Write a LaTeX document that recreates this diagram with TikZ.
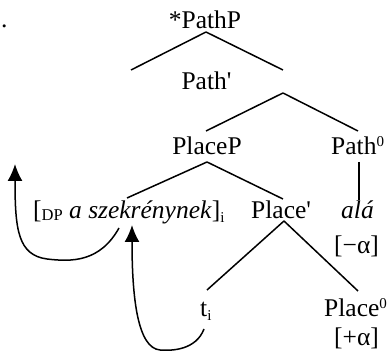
\documentclass[tikz,border=0pt]{standalone}
\usepackage{fontspec}
\setmainfont{Liberation Serif}
\usetikzlibrary{arrows.meta}
\newcommand{\dnsub}[1]{\raisebox{-4pt}{\fontsize{15}{15}\selectfont #1}}
\newcommand{\smcap}[1]{\raisebox{-1.5pt}{\fontsize{16.5}{16.5}\selectfont #1}}
\newcommand{\upsup}[1]{\raisebox{8.5pt}{\fontsize{15}{15}\selectfont #1}}
\begin{document}
\begin{tikzpicture}[x=1pt,y=-1pt,font=\fontsize{25.5}{29}\selectfont,
  lbl/.style={inner sep=0pt, anchor=base west},
  br/.style={line width=1.5pt},
  mv/.style={line width=1.5pt, -{Latex[length=17pt,width=15pt]}}]
\useasboundingbox (0,0) rectangle (392,352);
\node[lbl] (dot) at (1,28){.};
\node[lbl, anchor=base] (nd0) at (205,29){*PathP};
\node[lbl, anchor=base] (nd1) at (206.5,90){Path\textquotesingle};
\node[lbl, anchor=base] (nd2) at (207,155){PlaceP};
\node[lbl] (nd3) at (331,155){Path\upsup{0}};
\node[lbl] (nd4) at (33,219){[\smcap{DP} \textit{a szekrénynek}]\dnsub{i}};
\node[lbl] (nd5) at (251,219){Place\textquotesingle};
\node[lbl] (nd6) at (341,219){\textit{alá}};
\node[lbl] (nd7) at (334,254){[−α]};
\node[lbl] (nd8) at (200,317){t\dnsub{i}};
\node[lbl] (nd9) at (324,317){Place\upsup{0}};
\node[lbl] (nd10) at (334,346){[+α]};
% branch ends
\coordinate (c0) at (206,32); \coordinate (l0) at (131,70); \coordinate (r0) at (283,70);
\coordinate (c1) at (283,93); \coordinate (l1) at (206,131); \coordinate (r1) at (358,131);
\coordinate (c2) at (207,162); \coordinate (l2) at (127,198); \coordinate (r2) at (283,199);
\coordinate (c3) at (359,162); \coordinate (d3) at (359,200);
\coordinate (c4) at (284,221); \coordinate (l4) at (207,290); \coordinate (r4) at (358,291);
\draw[br](c0) -- (l0);
\draw[br](c0) -- (r0);
\draw[br](c1) -- (l1);
\draw[br](c1) -- (r1);
\draw[br](c2) -- (l2);
\draw[br](c2) -- (r2);
\draw[br](c3) -- (d3);
\draw[br](c4) -- (l4);
\draw[br](c4) -- (r4);
% movement
\coordinate (m0) at (119,228); \coordinate (t0) at (15,164);
\coordinate (m1) at (204,329); \coordinate (t1) at (132,225);
\draw[mv](m0) .. controls (100,262) and (72,262) .. (47,259) .. controls (18,255) and (15,230) .. (t0);
\draw[mv](m1) .. controls (196,350) and (172,351) .. (160,350) .. controls (138,348) and (132,300) .. (t1);
\end{tikzpicture}
\end{document}
